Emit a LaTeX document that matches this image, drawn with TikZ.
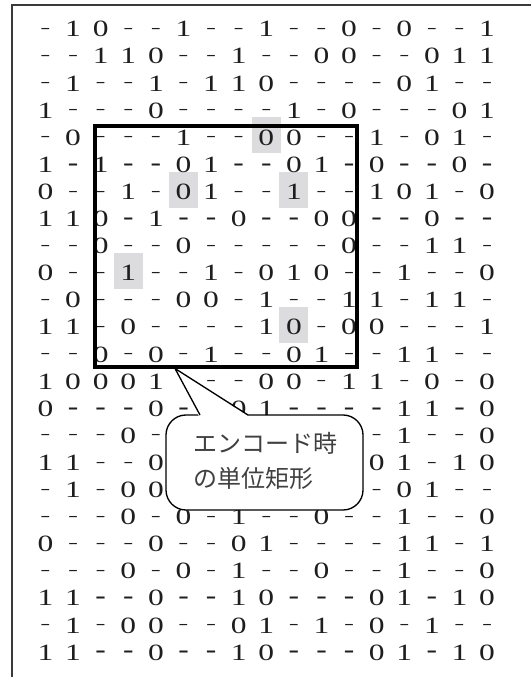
\documentclass[tikz,border=0pt]{standalone}
\usepackage{fontspec}
\usepackage{graphicx}
\setmainfont{Liberation Serif}
\newfontfamily\digfont[FakeStretch=1.35]{Liberation Serif}
\newfontfamily\cjk{Noto Sans CJK JP}
\definecolor{ink}{HTML}{1E1E1E}
\definecolor{frameink}{HTML}{3A3A3A}
\definecolor{hlgray}{HTML}{DCDCDE}
\definecolor{textgray}{HTML}{404040}
\newcommand\tdash{\raisebox{1.8pt}{\scalebox{0.48}[1]{\textendash}}}
\newcommand\bdash{\raisebox{1.7pt}{\bfseries -}}
\newcommand\cellglyph[2]{\if d#1\ifnum#2=1 \bdash\else\tdash\fi\else#1\fi}
\newcommand\gridrow[3]{%
  \foreach \ch [count=\cc from 0] in {#3} {%
    \if x\ch\else
    \node[cell] (n-#1-\cc) at ({45.5+27.6*\cc},{29+27.1*#1}) {\cellglyph{\ch}{#2}};
    \fi
  }%
}
\begin{document}
\begin{tikzpicture}[x=0.75pt,y=-0.75pt,
  cell/.style={inner sep=0pt, text height=11.8pt, text depth=0pt, anchor=center,
    text=ink, font=\fontsize{17.5pt}{19pt}\digfont},
  hl/.style={fill=hlgray},
  unitbox/.style={draw=black, line width=2.6pt},
  framebox/.style={draw=frameink, line width=2pt},
  calloutbox/.style={draw=black, fill=white, line width=1pt, rounded corners=15pt,
    minimum width=147.75pt, minimum height=71.25pt, inner sep=0pt},
  callouttext/.style={anchor=west, align=left, inner sep=0pt, text=textgray,
    font=\fontsize{18pt}{26.25pt}\cjk}
]
\useasboundingbox (0,0) rectangle (531,677);
% frame
\coordinate (ftl) at (12,5);
\coordinate (ftr) at (531,5);
\coordinate (fbl) at (12,677);
\draw[framebox] (ftr) -- (ftl) -- (fbl);
% highlights
\foreach \r/\c in {4/8,6/5,6/9,9/3,11/9}
  \fill[hl] ({45.5+27.6*\c-14.5},{29+27.1*\r-20}) rectangle ++(29,36);
% grid (x = cell hidden by the callout)
\gridrow{0}{0}{d,1,0,d,d,1,d,d,1,d,d,0,d,0,d,d,1}
\gridrow{1}{0}{d,d,1,1,0,d,d,1,d,d,0,0,d,d,0,1,1}
\gridrow{2}{0}{d,1,d,d,1,d,1,1,0,d,d,d,d,0,1,d,d}
\gridrow{3}{0}{1,d,d,d,0,d,d,d,d,1,d,0,d,d,d,0,1}
\gridrow{4}{0}{d,0,d,d,d,1,d,d,0,0,d,d,1,d,0,1,d}
\gridrow{5}{1}{1,d,1,d,d,0,1,d,d,0,1,d,0,d,d,0,d}
\gridrow{6}{0}{0,d,d,1,d,0,1,d,d,1,d,d,1,0,1,d,0}
\gridrow{7}{1}{1,1,0,d,1,d,d,0,d,d,0,0,d,d,0,d,d}
\gridrow{8}{0}{d,d,0,d,d,0,d,d,d,d,d,0,d,d,1,1,d}
\gridrow{9}{0}{0,d,d,1,d,d,1,d,0,1,0,d,d,1,d,d,0}
\gridrow{10}{0}{d,0,d,d,d,0,0,d,1,d,d,1,1,d,1,1,d}
\gridrow{11}{0}{1,1,d,0,d,d,d,d,1,0,d,0,0,d,d,d,1}
\gridrow{12}{0}{d,d,0,d,0,d,1,d,d,0,1,d,d,1,1,d,d}
\gridrow{13}{0}{1,0,0,0,1,x,d,d,0,0,d,1,1,d,0,d,0}
\gridrow{14}{1}{0,d,d,d,0,d,x,0,1,d,d,d,d,1,1,d,0}
\gridrow{15}{0}{d,d,d,0,d,x,x,x,x,x,x,x,d,1,d,d,0}
\gridrow{16}{0}{1,1,d,d,0,x,x,x,x,x,x,x,0,1,d,1,0}
\gridrow{17}{0}{d,1,d,0,0,x,x,x,x,x,x,x,d,0,1,d,d}
\gridrow{18}{0}{d,d,d,0,d,0,d,1,d,d,0,d,d,1,d,d,0}
\gridrow{19}{0}{0,d,d,d,0,d,d,0,1,d,d,d,d,1,1,d,1}
\gridrow{20}{0}{d,d,d,0,d,0,d,1,d,d,0,d,d,1,d,d,0}
\gridrow{21}{1}{1,1,d,d,0,d,d,1,0,d,d,d,0,1,d,1,0}
\gridrow{22}{0}{d,1,d,0,0,d,d,0,1,d,1,d,0,d,1,d,d}
\gridrow{23}{1}{1,1,d,d,0,d,d,1,0,d,d,d,0,1,d,1,0}
% unit rectangle
\coordinate (ul) at (95,126);
\coordinate (lr) at (357,367);
\draw[unitbox] (ul) rectangle (lr);
% callout
\node[calloutbox] (call) at (264.5,462.5) {};
\coordinate (tip) at (175,368.5);
\coordinate (pa) at (200,415);
\coordinate (pb) at (248,415);
\fill[white] (199,416.5) -- (tip) -- (249,416.5) -- cycle;
\draw[line width=1pt] (pa) -- (tip) -- (pb);
\node[callouttext] (ctext) at (193,460.5) {エンコード時\\の単位矩形};
\end{tikzpicture}
\end{document}
